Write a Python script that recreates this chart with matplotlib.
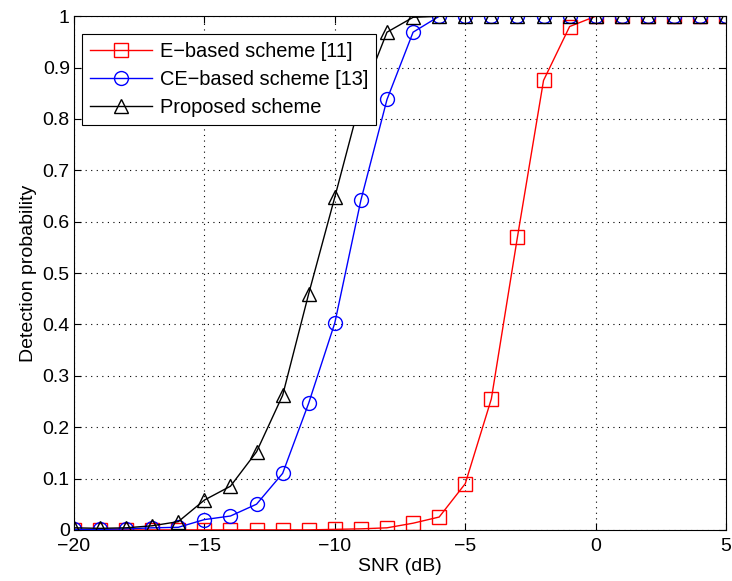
import numpy as np
import matplotlib.pyplot as plt

plt.rcParams["font.family"] = ["Liberation Sans", "DejaVu Sans"]

snr = np.arange(-20, 6)
e_based = [0, 0, 0, 0, 0, 0, 0, 0, 0, 0, 0.001, 0.002, 0.004, 0.013,
           0.025, 0.09, 0.255, 0.57, 0.875, 0.98, 1, 1, 1, 1, 1, 1]
ce_based = [0.001, 0.001, 0.002, 0.004, 0.005, 0.02, 0.027, 0.05, 0.11, 0.247,
            0.403, 0.642, 0.838, 0.969, 1, 1, 1, 1, 1, 1, 1, 1, 1, 1, 1, 1]
proposed = [0.004, 0.003, 0.004, 0.008, 0.016, 0.058, 0.085, 0.152, 0.262, 0.46,
            0.648, 0.84, 0.969, 0.998, 1, 1, 1, 1, 1, 1, 1, 1, 1, 1, 1, 1]


def main():
    fig = plt.figure(figsize=(7.32, 5.81), dpi=100)
    ax = fig.add_axes([0.101, 0.088, 0.891, 0.884])

    style = dict(linewidth=1, markersize=10, markerfacecolor="none",
                 markeredgewidth=1)
    ax.plot(snr, e_based, "s-", color="red", label="E\u2212based scheme [11]", **style)
    ax.plot(snr, ce_based, "o-", color="blue", label="CE\u2212based scheme [13]", **style)
    ax.plot(snr, proposed, "^-", color="black", label="Proposed scheme", **style)

    ax.set_xlim(-20, 5)
    ax.set_ylim(0, 1)
    ax.set_xticks(np.arange(-20, 6, 5))
    ax.set_yticks(np.arange(0, 1.01, 0.1))
    ax.set_yticklabels(["0", "0.1", "0.2", "0.3", "0.4", "0.5", "0.6",
                        "0.7", "0.8", "0.9", "1"])
    ax.tick_params(labelsize=14, direction="in", length=5,
                   top=True, right=True)
    ax.tick_params(axis="x", pad=6)
    ax.tick_params(axis="y", pad=3)
    ax.grid(True, linestyle=(0, (1, 4)), color="black", linewidth=0.8)

    ax.set_xlabel("SNR (dB)", fontsize=14, labelpad=2)
    ax.set_ylabel("Detection probability", fontsize=14, labelpad=4)

    leg = ax.legend(loc="upper left", bbox_to_anchor=(0.012, 0.965),
                    borderaxespad=0, fontsize=14.4, fancybox=False,
                    edgecolor="black", framealpha=1, handlelength=3.1,
                    handletextpad=0.4, labelspacing=0.45, borderpad=0.4)
    leg.get_frame().set_linewidth(0.8)

    fig.savefig("out.png", dpi=100)


if __name__ == "__main__":
    main()
